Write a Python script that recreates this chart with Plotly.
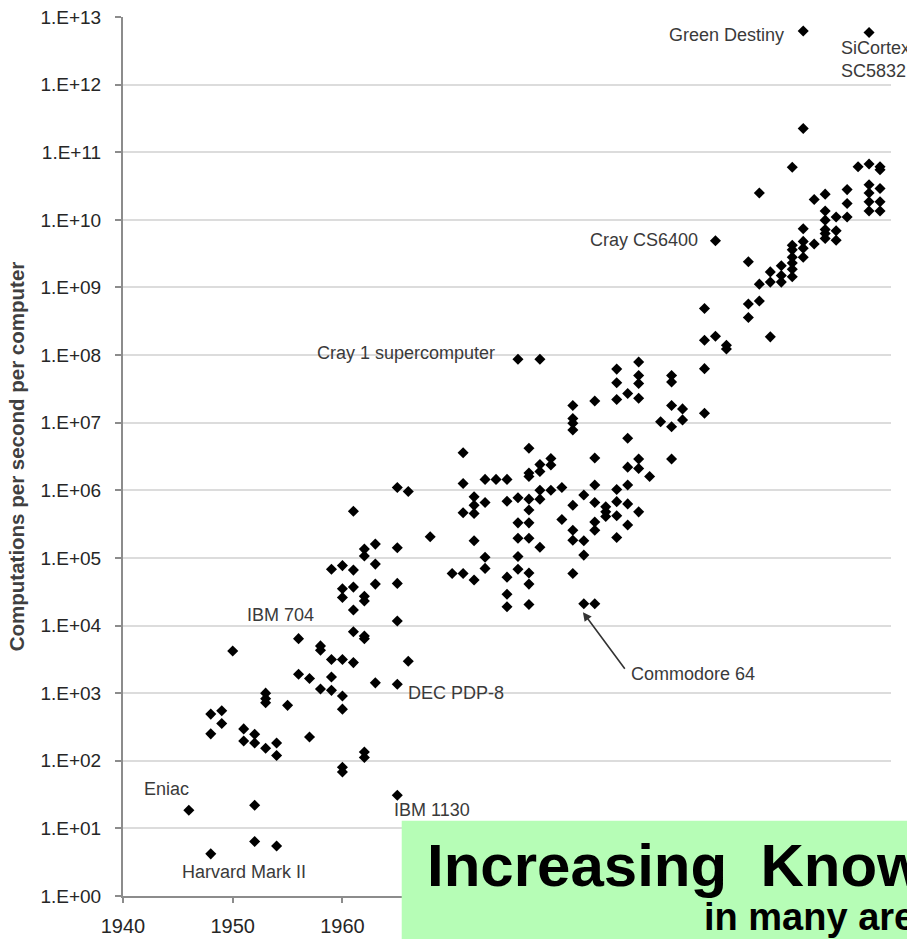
import plotly.graph_objects as go

# ---- data (year, computations per second) ----
years = [
    1946,
    1948, 1948, 1948,
    1949, 1949,
    1950,
    1951, 1951,
    1952, 1952, 1952, 1952,
    1953, 1953, 1953, 1953,
    1954, 1954, 1954,
    1955,
    1956, 1956,
    1957, 1957,
    1958, 1958, 1958,
    1959, 1959, 1959, 1959,
    1960, 1960, 1960, 1960, 1960, 1960, 1960, 1960,
    1961, 1961, 1961, 1961, 1961, 1961,
    1962, 1962, 1962, 1962, 1962, 1962, 1962, 1962,
    1963, 1963, 1963, 1963,
    1965, 1965, 1965, 1965, 1965, 1965,
    1966, 1966,
    1968,
    1970,
    1971, 1971, 1971, 1971,
    1972, 1972, 1972, 1972, 1972,
    1973, 1973, 1973, 1973,
    1974,
    1975, 1975, 1975, 1975, 1975,
    1976, 1976, 1976, 1976, 1976, 1976,
    1977, 1977, 1977, 1977, 1977, 1977, 1977, 1977, 1977, 1977,
    1978, 1978, 1978, 1978, 1978, 1978,
    1979, 1979, 1979,
    1980, 1980,
    1981, 1981, 1981, 1981, 1981, 1981, 1981, 1981,
    1982, 1982, 1982, 1982,
    1983, 1983, 1983, 1983, 1983, 1983, 1983,
    1984, 1984, 1984,
    1985, 1985, 1985, 1985, 1985, 1985, 1985,
    1986, 1986, 1986, 1986, 1986, 1986,
    1987, 1987, 1987, 1987, 1987, 1987, 1987,
    1988,
    1989,
    1990, 1990, 1990, 1990, 1990,
    1991, 1991,
    1993, 1993, 1993, 1993,
    1994, 1994,
    1995, 1995,
    1997, 1997, 1997,
    1998, 1998, 1998,
    1999, 1999, 1999,
    2000, 2000, 2000,
    2001, 2001, 2001, 2001, 2001, 2001, 2001,
    2002, 2002, 2002, 2002, 2002, 2002,
    2003, 2003,
    2004, 2004, 2004, 2004, 2004, 2004,
    2005, 2005, 2005,
    2006, 2006, 2006,
    2007,
    2008, 2008, 2008, 2008, 2008, 2008,
    2009, 2009, 2009, 2009, 2009,
]

cps = [
    18.6,
    4.2, 490, 250,
    550, 355,
    4200,
    296, 196,
    247, 183, 22, 6.4,
    1000, 830, 720, 153,
    183, 120, 5.5,
    660,
    6400, 1900,
    1650, 225,
    5000, 4300, 1150,
    68000, 3150, 1730, 1100,
    77000, 35000, 26000, 3150, 910, 580, 80, 68,
    490000, 66000, 37000, 17000, 8100, 2830,
    135000, 107000, 27000, 23000, 7000, 6400, 135, 112,
    160000, 81000, 41000, 1420,
    1.1e6, 141000, 42000, 11700, 1350, 31,
    960000, 2960,
    205000,
    59000,
    3.6e6, 1.26e6, 466000, 59000,
    800000, 600000, 455000, 179000, 47000,
    1.45e6, 660000, 102000, 70000,
    1.45e6,
    1.45e6, 690000, 52000, 29000, 19000,
    8.7e7, 776000, 330000, 195000, 105000, 68000,
    4.2e6, 1.8e6, 1.6e6, 740000, 510000, 330000, 195000, 60000, 41000, 20500,
    8.7e7, 2.4e6, 1.9e6, 1.0e6, 740000, 144000,
    2.96e6, 2.36e6, 1.0e6,
    1.1e6, 370000,
    1.8e7, 1.15e7, 9.8e6, 7.8e6, 600000, 257000, 183000, 59000,
    850000, 180000, 110000, 21000,
    2.1e7, 3.0e6, 1.2e6, 660000, 340000, 257000, 21000,
    570000, 480000, 410000,
    6.2e7, 3.9e7, 2.2e7, 1.03e6, 680000, 420000, 200000,
    2.7e7, 5.9e6, 2.2e6, 1.2e6, 630000, 306000,
    7.9e7, 5.0e7, 3.8e7, 2.3e7, 2.9e6, 2.1e6, 480000,
    1.6e6,
    1.03e7,
    5.0e7, 4.0e7, 1.8e7, 8.7e6, 2.9e6,
    1.6e7, 1.1e7,
    4.9e8, 1.66e8, 6.3e7, 1.38e7,
    4.9e9, 1.9e8,
    1.4e8, 1.23e8,
    2.4e9, 5.7e8, 3.6e8,
    2.5e10, 1.12e9, 6.3e8,
    1.7e9, 1.2e9, 1.86e8,
    2.1e9, 1.5e9, 1.2e9,
    6.0e10, 4.2e9, 3.6e9, 2.8e9, 2.3e9, 1.86e9, 1.44e9,
    6.2e12, 2.25e11, 7.4e9, 4.8e9, 3.8e9, 2.8e9,
    2.0e10, 4.4e9,
    2.4e10, 1.35e10, 9.9e9, 7.2e9, 6.3e9, 5.3e9,
    1.1e10, 6.9e9, 5.0e9,
    2.8e10, 1.75e10, 1.1e10,
    6.1e10,
    5.9e12, 6.7e10, 3.3e10, 2.5e10, 1.85e10, 1.35e10,
    6.1e10, 5.5e10, 2.9e10, 1.85e10, 1.35e10,
]

y_tick_vals = [10 ** k for k in range(14)]
y_tick_text = ["1.E+%02d" % k for k in range(14)]
x_tick_vals = [1940, 1950, 1960, 1970, 1980, 1990, 2000, 2010]

# point labels: (text, year, log10 value, anchor)
label_text = ["Green Destiny", "SiCortex<br>SC5832", "Cray CS6400", "Cray 1 supercomputer",
              "IBM 704", "DEC PDP-8", "Eniac", "Harvard Mark II", "IBM 1130", "Commodore 64"]
label_year = [2000.45, 2005.3, 1992.6, 1974.1, 1951.1, 1965.8, 1941.7, 1945.2, 1964.5, 1986.1]
label_log = [12.73, 12.37, 9.70, 8.03, 4.15, 3.00, 1.58, 0.36, 1.27, 3.29]
label_anchor = ["right", "left", "right", "right", "left", "left", "left", "left", "left", "left"]

title_main = "Increasing\u00a0\u00a0Knowledge"
title_sub = "in many areas"

fig = go.Figure()
fig.add_trace(go.Scatter(
    x=years, y=cps, mode="markers",
    marker=dict(symbol="diamond", size=8.5, color="#000000", line=dict(width=0)),
    showlegend=False, hoverinfo="x+y",
))

annotations = []
for t, xv, yv, anc in zip(label_text, label_year, label_log, label_anchor):
    annotations.append(dict(
        x=xv, y=yv, xref="x", yref="y", text=t, showarrow=False,
        xanchor=anc, yanchor="middle", align="left",
        font=dict(family="Liberation Sans, Arial, sans-serif", size=18, color="#3a3a3a"),
    ))

# arrow to Commodore 64
annotations.append(dict(
    x=1981.92, y=4.198, xref="x", yref="y", text="", showarrow=True,
    ax=43, ay=58, axref="pixel", ayref="pixel",
    arrowhead=2, arrowsize=1.1, arrowwidth=1.6, arrowcolor="#333333",
))

# green banner text
annotations.append(dict(
    x=0.3935, y=0.0347, xref="paper", yref="paper", text="<b>" + title_main + "</b>",
    showarrow=False, xanchor="left", yanchor="middle",
    font=dict(family="Liberation Sans, Arial, sans-serif", size=60, color="#000000"),
))
annotations.append(dict(
    x=0.7545, y=-0.0237, xref="paper", yref="paper", text="<b>" + title_sub + "</b>",
    showarrow=False, xanchor="left", yanchor="middle",
    font=dict(family="Liberation Sans, Arial, sans-serif", size=38, color="#000000"),
))

fig.update_layout(
    width=907, height=939, autosize=False,
    margin=dict(l=123, r=16, t=17, b=43, pad=0),
    paper_bgcolor="#ffffff", plot_bgcolor="#ffffff",
    font=dict(family="Liberation Sans, Arial, sans-serif", color="#262626"),
    annotations=annotations,
    shapes=[dict(
        type="rect", xref="paper", yref="paper",
        x0=0.3629, x1=1.3, y0=-0.3, y1=0.0857,
        fillcolor="#b6fdb6", line=dict(width=0), layer="above",
    )],
)

fig.update_xaxes(
    range=[1940, 2010], tickvals=x_tick_vals, ticktext=[str(v) for v in x_tick_vals],
    showgrid=False, zeroline=False, showline=True, linecolor="#8c8c8c", linewidth=2,
    ticks="outside", ticklen=5, tickwidth=1.5, tickcolor="#8c8c8c",
    tickfont=dict(size=20, color="#262626"), ticklabelstandoff=6,
    automargin=False,
)
fig.update_yaxes(
    type="log", range=[0, 13], tickvals=y_tick_vals, ticktext=y_tick_text,
    showgrid=True, gridcolor="#dcdcdc", gridwidth=1.5, zeroline=False,
    showline=True, linecolor="#8c8c8c", linewidth=2,
    ticks="outside", ticklen=6, tickwidth=1.5, tickcolor="#8c8c8c",
    tickfont=dict(size=19, color="#262626"), ticklabelstandoff=10,
    title=dict(text="Computations per second per computer", standoff=10,
               font=dict(size=20.5, color="#404040", weight="bold")),
    automargin=False,
)

fig.write_html("out.html")
